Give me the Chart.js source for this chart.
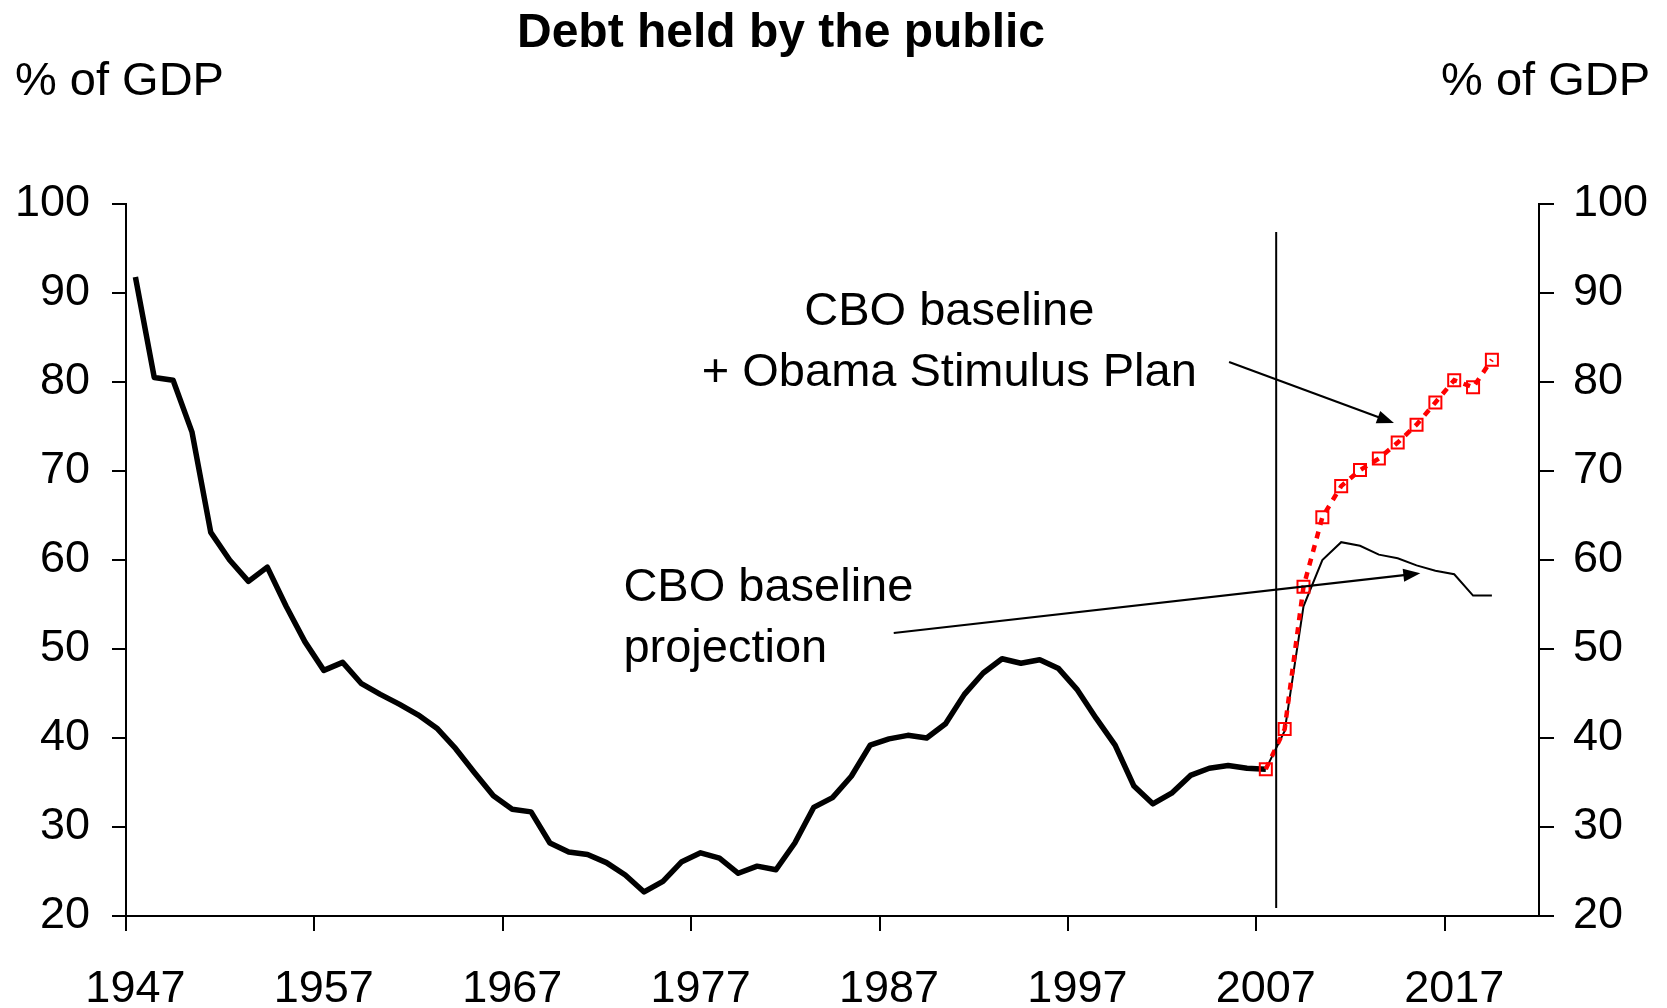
<!DOCTYPE html>
<html>
<head>
<meta charset="utf-8">
<title>Debt held by the public</title>
<script src="https://cdn.jsdelivr.net/npm/chart.js@4.4.1/dist/chart.umd.min.js"></script>
<style>
  html, body { margin: 0; padding: 0; background: #fff; }
  #wrap { position: relative; width: 1667px; height: 1008px; }
</style>
</head>
<body>
<div id="wrap"><canvas id="debtChart"></canvas></div>
<script>
// ===== Debt held by the public (% of GDP) =====

// --- Data ---
var years = [
    1947, 1948, 1949, 1950, 1951, 1952, 1953, 1954, 1955, 1956,
    1957, 1958, 1959, 1960, 1961, 1962, 1963, 1964, 1965, 1966,
    1967, 1968, 1969, 1970, 1971, 1972, 1973, 1974, 1975, 1976,
    1977, 1978, 1979, 1980, 1981, 1982, 1983, 1984, 1985, 1986,
    1987, 1988, 1989, 1990, 1991, 1992, 1993, 1994, 1995, 1996,
    1997, 1998, 1999, 2000, 2001, 2002, 2003, 2004, 2005, 2006,
    2007, 2008, 2009, 2010, 2011, 2012, 2013, 2014, 2015, 2016,
    2017, 2018, 2019, 2020, 2021
];

// actual, 1947-2007
var actualStart = 1947;
var actualDebt = [
    91.8, 80.5, 80.2, 74.4, 63.1, 60.0, 57.6, 59.2, 54.8, 50.8,
    47.6, 48.5, 46.1, 44.9, 43.8, 42.6, 41.1, 38.8, 36.1, 33.5,
    32.0, 31.7, 28.2, 27.2, 26.9, 26.0, 24.6, 22.7, 23.9, 26.1,
    27.1, 26.5, 24.8, 25.6, 25.2, 28.2, 32.2, 33.3, 35.7, 39.2,
    39.9, 40.3, 40.0, 41.6, 44.9, 47.3, 48.9, 48.4, 48.8, 47.8,
    45.4, 42.2, 39.2, 34.6, 32.6, 33.8, 35.8, 36.6, 36.9, 36.6,
    36.5
];

// projections, 2007-2019
var projStart = 2007;
var cboBaseline = [36.5, 40.8, 54.8, 60.0, 62.0, 61.6, 60.6, 60.2, 59.4, 58.8, 58.4, 56.0, 56.0];
var withStimulus = [36.5, 41.0, 57.0, 64.8, 68.3, 70.1, 71.4, 73.2, 75.2, 77.7, 80.2, 79.4, 82.5];

var decadeLabels = [1947, 1957, 1967, 1977, 1987, 1997, 2007, 2017];
var yMin = 20, yMax = 100, yStep = 10;

var fontFamily = '"Liberation Sans", Arial, Helvetica, sans-serif';

// place a series on the full year axis
function alignTo(startYear, values) {
    return years.map(function (yr) {
        var i = yr - startYear;
        return (i >= 0 && i < values.length) ? values[i] : null;
    });
}

function isDecadeTick(ctx) {
    return decadeLabels.indexOf(years[ctx.index]) >= 0;
}

// --- Annotations: vertical divider, arrows and notes ---
var overlay = {
    id: 'overlay',
    afterDraw: function (chart) {
        var ctx = chart.ctx;
        var xs = chart.scales.x, ys = chart.scales.y;
        function px(yr) { return xs.getPixelForValue(yr - years[0]); }
        function py(v) { return ys.getPixelForValue(v); }

        function arrow(x1, y1, x2, y2) {
            var ang = Math.atan2(y2 - y1, x2 - x1);
            var len = 17, half = 6.5;
            ctx.beginPath();
            ctx.moveTo(x1, y1);
            ctx.lineTo(x2 - Math.cos(ang) * len * 0.7, y2 - Math.sin(ang) * len * 0.7);
            ctx.stroke();
            ctx.beginPath();
            ctx.moveTo(x2, y2);
            ctx.lineTo(x2 - len * Math.cos(ang) + half * Math.sin(ang), y2 - len * Math.sin(ang) - half * Math.cos(ang));
            ctx.lineTo(x2 - len * Math.cos(ang) - half * Math.sin(ang), y2 - len * Math.sin(ang) + half * Math.cos(ang));
            ctx.closePath();
            ctx.fill();
        }

        ctx.save();
        ctx.strokeStyle = '#000';
        ctx.fillStyle = '#000';

        // divider between history and projection
        ctx.lineWidth = 2;
        ctx.beginPath();
        ctx.moveTo(px(2007.55), py(96.85));
        ctx.lineTo(px(2007.55), py(20.9));
        ctx.stroke();

        ctx.lineWidth = 2.2;
        arrow(px(2005.05), py(82.25), px(2013.8), py(75.4));
        arrow(px(1987.25), py(51.8), px(2015.2), py(58.5));

        ctx.font = '47px ' + fontFamily;
        ctx.textBaseline = 'alphabetic';
        ctx.textAlign = 'center';
        ctx.fillText('CBO baseline', px(1990.2), py(86.4));
        ctx.fillText('+ Obama Stimulus Plan', px(1990.2), py(79.55));
        ctx.textAlign = 'left';
        ctx.fillText('CBO baseline', px(1972.9), py(55.4));
        ctx.fillText('projection', px(1972.9), py(48.55));

        // titles
        ctx.font = 'bold 48px ' + fontFamily;
        ctx.textAlign = 'center';
        ctx.fillText('Debt held by the public', 781, 47);
        ctx.font = '47px ' + fontFamily;
        ctx.textAlign = 'left';
        ctx.fillText('% of GDP', 15, 95);
        ctx.textAlign = 'right';
        ctx.fillText('% of GDP', 1650, 95);
        ctx.restore();
    }
};

function yAxis(position, tickLen, pad, boxWidth) {
    return {
        type: 'linear',
        position: position,
        min: yMin,
        max: yMax,
        afterFit: function (scale) { scale.width = boxWidth; },
        grid: {
            drawOnChartArea: false,
            drawTicks: true,
            tickLength: tickLen,
            color: '#000',
            lineWidth: 2
        },
        border: { display: true, color: '#000', width: 2 },
        ticks: {
            stepSize: yStep,
            padding: pad,
            color: '#000',
            font: { family: fontFamily, size: 45 }
        }
    };
}

document.addEventListener('DOMContentLoaded', function () {
    var canvas = document.getElementById('debtChart');
    new Chart(canvas.getContext('2d'), {
        type: 'line',
        data: {
            labels: years,
            datasets: [
                {
                    label: 'CBO baseline + Obama Stimulus Plan',
                    data: alignTo(projStart, withStimulus),
                    borderColor: '#ff0000',
                    borderWidth: 4.5,
                    borderDash: [7, 7],
                    pointStyle: 'rect',
                    pointRadius: 8.5,
                    pointBorderWidth: 2,
                    pointBorderColor: '#ff0000',
                    pointBackgroundColor: 'rgba(0,0,0,0)',
                    tension: 0
                },
                {
                    label: 'CBO baseline projection',
                    data: alignTo(projStart, cboBaseline),
                    borderColor: '#000',
                    borderWidth: 2,
                    pointRadius: 0,
                    tension: 0
                },
                {
                    label: 'Debt held by the public',
                    data: alignTo(actualStart, actualDebt),
                    borderColor: '#000',
                    borderWidth: 5.5,
                    borderJoinStyle: 'round',
                    pointRadius: 0,
                    tension: 0
                }
            ]
        },
        options: {
            responsive: true,
            maintainAspectRatio: false,
            animation: false,
            layout: { padding: { left: 15, right: 19, top: 204, bottom: 2.5 } },
            plugins: {
                legend: { display: false },
                tooltip: { enabled: false }
            },
            scales: {
                x: {
                    type: 'category',
                    offset: true,
                    afterFit: function (scale) { scale.height = 89.5; },
                    grid: {
                        offset: true,
                        drawOnChartArea: false,
                        tickLength: 15,
                        lineWidth: 2,
                        color: function (ctx) { return isDecadeTick(ctx) ? '#000' : 'rgba(0,0,0,0)'; }
                    },
                    border: { display: true, color: '#000', width: 2 },
                    ticks: {
                        autoSkip: false,
                        maxRotation: 0,
                        minRotation: 0,
                        padding: 38,
                        color: '#000',
                        font: { family: fontFamily, size: 45, lineHeight: 0.9 },
                        callback: function (value, index) {
                            var yr = years[index];
                            return decadeLabels.indexOf(yr) >= 0 ? String(yr) : '';
                        }
                    }
                },
                y: yAxis('left', 14, 22, 111),
                y2: yAxis('right', 15, 19, 109)
            }
        },
        plugins: [overlay]
    });
});
</script>
</body>
</html>
